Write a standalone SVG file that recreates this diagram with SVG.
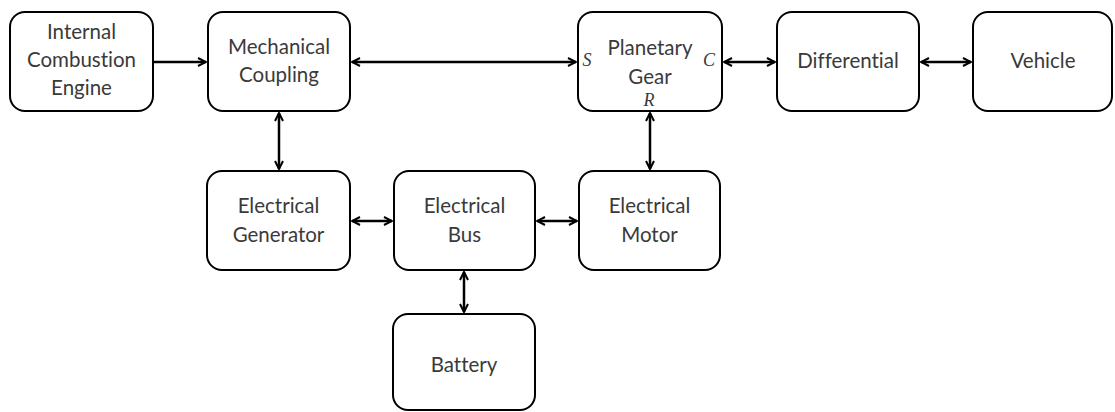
<svg xmlns="http://www.w3.org/2000/svg" width="1115" height="412" viewBox="0 0 1115 412">
<defs>
<marker id="ah" viewBox="0 0 10 10" refX="9" refY="5" markerWidth="10" markerHeight="10" markerUnits="userSpaceOnUse" orient="auto-start-reverse">
<path d="M1,1 L9,5 L1,9" fill="none" stroke="#000" stroke-width="2"/>
</marker>
<style>
.box{fill:#fff;stroke:#000;stroke-width:2}
.t{font-family:Lato,"Open Sans",sans-serif;font-size:20.5px;fill:#3a3a3a;text-anchor:middle;font-variant-ligatures:none}
.p{font-family:"Liberation Serif",serif;font-style:italic;font-size:18px;fill:#3a3a3a;text-anchor:middle}
.c{stroke:#000;stroke-width:2.5;fill:none}
</style>
</defs>
<rect width="1115" height="412" fill="#fff"/>
<g id="ice"><rect class="box" x="10" y="12" width="143" height="99" rx="15"/>
<text class="t" x="81.5" y="39">Internal</text><text class="t" x="81.5" y="67">Combustion</text><text class="t" x="81.5" y="95">Engine</text></g>
<g id="mech"><rect class="box" x="208" y="12" width="142" height="99" rx="15"/>
<text class="t" x="279" y="54">Mechanical</text><text class="t" x="279" y="82">Coupling</text></g>
<g id="planet"><rect class="box" x="578" y="12" width="144" height="99" rx="15"/>
<text class="t" x="650" y="55">Planetary</text><text class="t" x="650" y="84">Gear</text>
<text class="p" x="587" y="66">S</text><text class="p" x="709" y="66">C</text><text class="p" x="649" y="106">R</text></g>
<g id="diff"><rect class="box" x="777" y="12" width="142" height="99" rx="15"/>
<text class="t" x="848" y="68">Differential</text></g>
<g id="vehicle"><rect class="box" x="973" y="12" width="139" height="99" rx="15"/>
<text class="t" x="1043" y="68">Vehicle</text></g>
<g id="gen"><rect class="box" x="207" y="171" width="143" height="99" rx="15"/>
<text class="t" x="278.5" y="213">Electrical</text><text class="t" x="278.5" y="242">Generator</text></g>
<g id="bus"><rect class="box" x="394" y="171" width="141" height="99" rx="15"/>
<text class="t" x="464.5" y="213">Electrical</text><text class="t" x="464.5" y="242">Bus</text></g>
<g id="motor"><rect class="box" x="579" y="171" width="141" height="99" rx="15"/>
<text class="t" x="649.5" y="213">Electrical</text><text class="t" x="649.5" y="242">Motor</text></g>
<g id="battery"><rect class="box" x="393" y="314" width="142" height="96" rx="15"/>
<text class="t" x="464" y="372">Battery</text></g>
<g id="connectors">
<line class="c" x1="153" y1="62" x2="206" y2="62" marker-end="url(#ah)"/>
<line class="c" x1="352" y1="62" x2="576" y2="62" marker-start="url(#ah)" marker-end="url(#ah)"/>
<line class="c" x1="724" y1="62" x2="775" y2="62" marker-start="url(#ah)" marker-end="url(#ah)"/>
<line class="c" x1="921" y1="62" x2="971" y2="62" marker-start="url(#ah)" marker-end="url(#ah)"/>
<line class="c" x1="279" y1="113" x2="279" y2="169" marker-start="url(#ah)" marker-end="url(#ah)"/>
<line class="c" x1="650" y1="113" x2="650" y2="169" marker-start="url(#ah)" marker-end="url(#ah)"/>
<line class="c" x1="352" y1="221" x2="392" y2="221" marker-start="url(#ah)" marker-end="url(#ah)"/>
<line class="c" x1="537" y1="221" x2="577" y2="221" marker-start="url(#ah)" marker-end="url(#ah)"/>
<line class="c" x1="464" y1="272" x2="464" y2="312" marker-start="url(#ah)" marker-end="url(#ah)"/>
</g>
</svg>
